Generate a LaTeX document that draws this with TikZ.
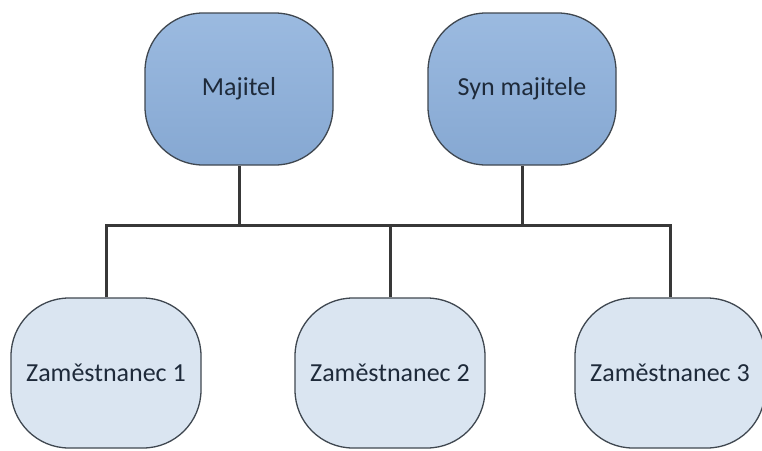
\documentclass[tikz,border=0pt]{standalone}
\usepackage{fontspec}
\setmainfont{Carlito}
\definecolor{boxline}{HTML}{3F4750}
\definecolor{ownertop}{HTML}{9BBAE0}
\definecolor{ownerbot}{HTML}{86A8D2}
\definecolor{stafffill}{HTML}{DAE5F1}
\definecolor{txt}{HTML}{1E2A3A}
\definecolor{wire}{HTML}{383838}
\begin{document}
\begin{tikzpicture}[x=1pt,y=-1pt,
  box/.style={draw=boxline, line width=1.3pt, rounded corners=58pt,
    inner sep=0pt, font=\fontsize{26}{30}\selectfont, text=txt},
  owner/.style={box, top color=ownertop, bottom color=ownerbot,
    minimum width=188pt, minimum height=152pt},
  staff/.style={box, fill=stafffill, minimum width=190pt, minimum height=150pt},
  conn/.style={draw=wire, line width=3pt}]
\useasboundingbox (0,0) rectangle (762,450);

% owners
\node[owner] (maj) at (239,89) {Majitel};
\node[owner] (syn) at (522,89) {Syn majitele};

% employees
\node[staff] (z1) at (106,373) {Zaměstnanec 1};
\node[staff] (z2) at (390,373) {Zaměstnanec 2};
\node[staff] (z3) at (670,373) {Zaměstnanec 3};

% bus connecting owners and employees
\coordinate (busW) at (z1.north |- 0,225);
\coordinate (busE) at (z3.north |- 0,225);
\draw[conn] (maj.south) -- (maj.south |- busW);
\draw[conn] (syn.south) -- (syn.south |- busW);
\draw[conn, line cap=rect] (busW) -- (busE);
\draw[conn] (z1.north) -- (busW);
\draw[conn] (z2.north) -- (z2.north |- busW);
\draw[conn] (z3.north) -- (busE);
\end{tikzpicture}
\end{document}
